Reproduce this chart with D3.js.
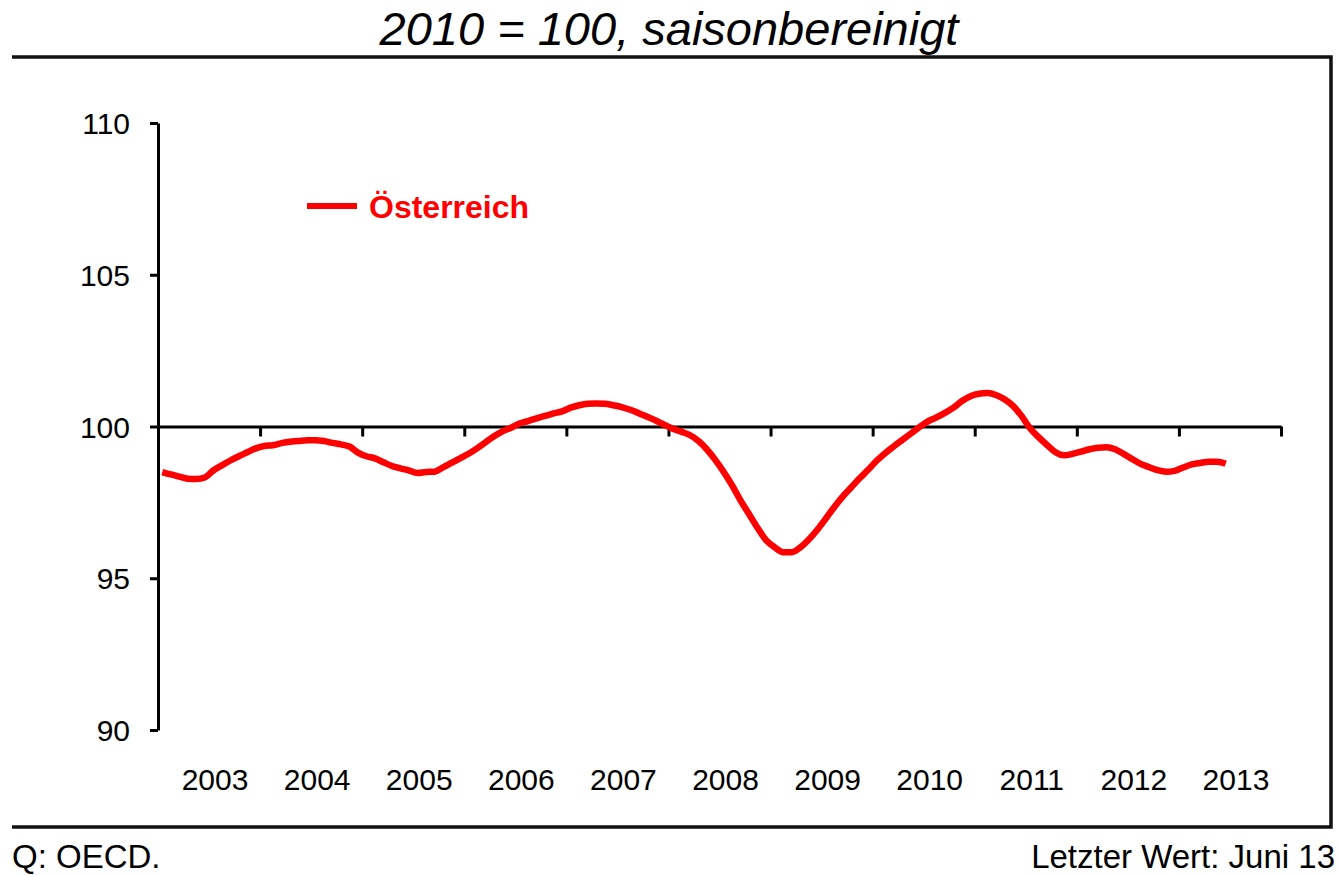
<!DOCTYPE html>
<html>
<head>
<meta charset="utf-8">
<script src="https://cdn.jsdelivr.net/npm/d3@7"></script>
<style>
  body { margin: 0; background: #fff; }
  svg { display: block; font-family: "Century Gothic", "URW Gothic L", "Liberation Sans", sans-serif; }
  .axis path, .axis line { stroke: #000; stroke-width: 3px; }
  .axis text { font-size: 30px; fill: #000; }
</style>
</head>
<body>
<svg id="chart" width="1340" height="875"></svg>
<script>
  // monthly index values, Jan 2003 - Jun 2013
  var yearLabels = ["2003","2004","2005","2006","2007","2008","2009","2010","2011","2012","2013"];
  var yTicks = [90, 95, 100, 105, 110];
  var seriesName = "Österreich";
  var values = [
    98.50, 98.42, 98.35, 98.28, 98.27, 98.32, 98.55, 98.72, 98.88, 99.02, 99.15, 99.28, // 2003
    99.36, 99.38, 99.45, 99.50, 99.52, 99.55, 99.55, 99.52, 99.46, 99.41, 99.34, 99.14, // 2004
    99.02, 98.95, 98.82, 98.70, 98.62, 98.55, 98.47, 98.50, 98.51, 98.65, 98.80, 98.95, // 2005
    99.10, 99.28, 99.48, 99.68, 99.84, 99.96, 100.10, 100.18, 100.27, 100.35, 100.43, 100.50, // 2006
    100.62, 100.70, 100.75, 100.76, 100.75, 100.70, 100.64, 100.55, 100.44, 100.32, 100.20, 100.06, // 2007
    99.93, 99.83, 99.72, 99.53, 99.25, 98.90, 98.50, 98.05, 97.55, 97.10, 96.65, 96.25, // 2008
    96.02, 95.86, 95.86, 96.02, 96.28, 96.60, 96.97, 97.35, 97.70, 98.00, 98.30, 98.58, // 2009
    98.88, 99.13, 99.35, 99.56, 99.77, 99.98, 100.17, 100.30, 100.45, 100.62, 100.84, 101.00, // 2010
    101.08, 101.10, 101.04, 100.90, 100.68, 100.35, 99.94, 99.65, 99.39, 99.15, 99.05, 99.10, // 2011
    99.17, 99.25, 99.30, 99.32, 99.25, 99.10, 98.93, 98.77, 98.66, 98.56, 98.51, 98.54, // 2012
    98.65, 98.75, 98.80, 98.84, 98.84, 98.77 // 2013
  ];

  (function() {
    var svg = d3.select("#chart");
    var plot = { x0: 158, x1: 1281, y0: 123, y1: 730 };
    var red = "#ff0000";

    var y = d3.scaleLinear().domain([90, 110]).range([plot.y1, plot.y0]);
    var xm = d3.scaleLinear().domain([0, yearLabels.length * 12]).range([plot.x0, plot.x1]);
    var xb = d3.scaleBand().domain(yearLabels).range([plot.x0, plot.x1]);

    // title
    svg.append("text")
      .attr("x", 669).attr("y", 45)
      .attr("text-anchor", "middle")
      .style("font-size", "47px").style("font-style", "italic")
      .text("2010 = 100, saisonbereinigt");

    // frame (no left side)
    svg.append("path")
      .attr("d", "M12,57H1331V827H12")
      .attr("fill", "none").attr("stroke", "#111").attr("stroke-width", 3.5);

    // y axis
    var yAxis = svg.append("g").attr("class", "axis")
      .attr("transform", "translate(" + plot.x0 + ",0)")
      .call(d3.axisLeft(y).tickValues(yTicks).tickSize(8).tickSizeOuter(0).tickPadding(20));
    yAxis.selectAll("text").attr("dy", "0.35em");

    // horizontal axis at 100 with year ticks
    svg.append("g").attr("class", "axis")
      .attr("transform", "translate(0," + y(100) + ")")
      .call(d3.axisBottom(xm).tickValues(d3.range(0, yearLabels.length * 12 + 1, 12))
        .tickSize(10).tickSizeOuter(0).tickFormat(""));

    // year labels
    var labAxis = svg.append("g").attr("class", "axis")
      .attr("transform", "translate(6,769)")
      .call(d3.axisBottom(xb).tickSize(0).tickPadding(0));
    labAxis.select(".domain").remove();

    // series
    var line = d3.line()
      .x(function(d, i) { return xm(i + 0.5); })
      .y(function(d) { return y(d); })
      .curve(d3.curveMonotoneX);

    svg.append("path")
      .datum(values)
      .attr("fill", "none")
      .attr("stroke", red)
      .attr("stroke-width", 6.5)
      .attr("stroke-linejoin", "round")
      .attr("d", line);

    // legend
    svg.append("line")
      .attr("x1", 307).attr("x2", 357).attr("y1", 206).attr("y2", 206)
      .attr("stroke", red).attr("stroke-width", 6);
    svg.append("text")
      .attr("x", 369).attr("y", 218)
      .attr("fill", red)
      .style("font-size", "32px").style("font-weight", "bold")
      .text(seriesName);

    // footer
    svg.append("text")
      .attr("x", 12).attr("y", 868)
      .style("font-size", "33px")
      .text("Q: OECD.");
    svg.append("text")
      .attr("x", 1335).attr("y", 868)
      .attr("text-anchor", "end")
      .style("font-size", "33px")
      .text("Letzter Wert: Juni 13");
  })();
</script>
</body>
</html>
